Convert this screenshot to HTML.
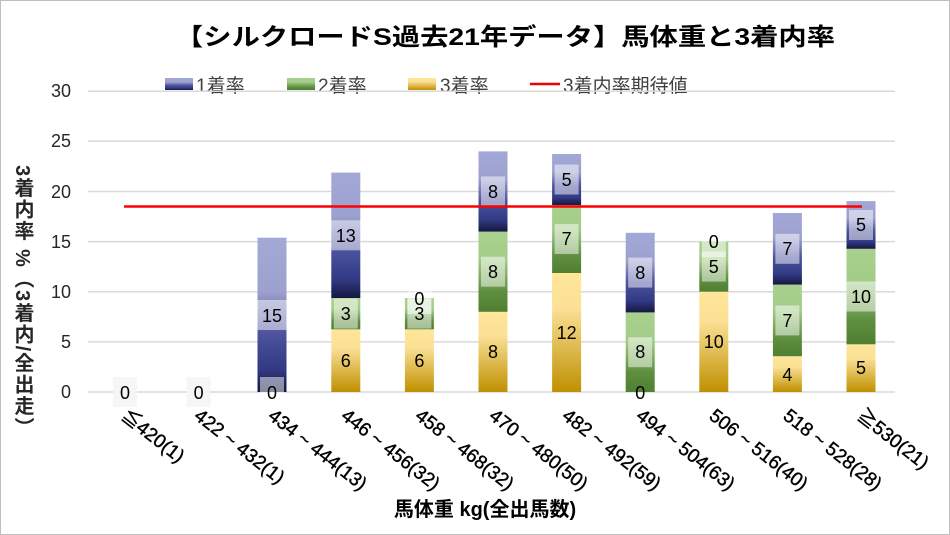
<!DOCTYPE html>
<html><head><meta charset="utf-8"><style>
html,body{margin:0;padding:0;background:#fff}
svg{display:block}
text{font-family:"Liberation Sans","Noto Sans CJK JP",sans-serif}
</style></head><body>
<svg width="950" height="535" viewBox="0 0 950 535" xmlns="http://www.w3.org/2000/svg">
<defs>
<linearGradient id="gb" x1="0" y1="0" x2="0" y2="1"><stop offset="0" stop-color="#a3a8d6"/><stop offset="0.35" stop-color="#9ca1cf"/><stop offset="0.62" stop-color="#4d539d"/><stop offset="0.85" stop-color="#323a85"/><stop offset="1" stop-color="#15173f"/></linearGradient>
<linearGradient id="gg" x1="0" y1="0" x2="0" y2="1"><stop offset="0" stop-color="#a9d18e"/><stop offset="0.35" stop-color="#a3cc88"/><stop offset="0.75" stop-color="#5e8f3e"/><stop offset="1" stop-color="#507e32"/></linearGradient>
<linearGradient id="gy" x1="0" y1="0" x2="0" y2="1"><stop offset="0" stop-color="#ffe699"/><stop offset="0.3" stop-color="#fbe095"/><stop offset="1" stop-color="#bf9000"/></linearGradient>
</defs>
<rect x="0.5" y="0.5" width="949" height="534" fill="#fff" stroke="#bfbfbf"/>
<text x="505" y="45" font-size="24" font-weight="bold" text-anchor="middle" textLength="660" lengthAdjust="spacingAndGlyphs">【シルクロードS過去21年データ】馬体重と3着内率</text>
<!-- legend -->
<rect x="165" y="78" width="28" height="12" fill="url(#gb)"/><text x="196" y="92" font-size="19" fill="#404040">1着率</text>
<rect x="287" y="78" width="28" height="12" fill="url(#gg)"/><text x="318" y="92" font-size="19" fill="#404040">2着率</text>
<rect x="408" y="78" width="28" height="12" fill="url(#gy)"/><text x="440" y="92" font-size="19" fill="#404040">3着率</text>
<line x1="530" y1="84" x2="560" y2="84" stroke="#e00" stroke-width="2.5"/><text x="563" y="92" font-size="19" fill="#404040">3着内率期待値</text>
<!-- grid -->
<g stroke="#d9d9d9" stroke-width="1.5">
<line x1="88" y1="392" x2="895" y2="392"/><line x1="88" y1="341.9" x2="895" y2="341.9"/><line x1="88" y1="291.7" x2="895" y2="291.7"/><line x1="88" y1="241.6" x2="895" y2="241.6"/><line x1="88" y1="191.5" x2="895" y2="191.5"/><line x1="88" y1="141.3" x2="895" y2="141.3"/><line x1="88" y1="91.2" x2="895" y2="91.2"/>
</g>
<g font-size="18" text-anchor="end" fill="#262626">
<text x="71" y="398">0</text><text x="71" y="348">5</text><text x="71" y="298">10</text><text x="71" y="248">15</text><text x="71" y="198">20</text><text x="71" y="147">25</text><text x="71" y="97">30</text>
</g>
<text x="22" y="165" font-size="20" font-weight="bold" letter-spacing="1.5" style="writing-mode:vertical-rl" fill="#262626">3着内率 %（3着内/全出走）</text>
<!-- bars -->
<rect x="257.5" y="237.7" width="29" height="154.3" fill="url(#gb)"/>
<rect x="331.3" y="329.3" width="29" height="62.7" fill="url(#gy)"/><rect x="331.3" y="298" width="29" height="31.3" fill="url(#gg)"/><rect x="331.3" y="172.6" width="29" height="125.4" fill="url(#gb)"/>
<rect x="404.9" y="329.3" width="29" height="62.7" fill="url(#gy)"/><rect x="404.9" y="298" width="29" height="31.3" fill="url(#gg)"/>
<rect x="478.5" y="311.8" width="29" height="80.2" fill="url(#gy)"/><rect x="478.5" y="231.6" width="29" height="80.2" fill="url(#gg)"/><rect x="478.5" y="151.4" width="29" height="80.2" fill="url(#gb)"/>
<rect x="552.1" y="273" width="29" height="119" fill="url(#gy)"/><rect x="552.1" y="205" width="29" height="68" fill="url(#gg)"/><rect x="552.1" y="154" width="29" height="51" fill="url(#gb)"/>
<rect x="625.7" y="312.4" width="29" height="79.6" fill="url(#gg)"/><rect x="625.7" y="232.8" width="29" height="79.6" fill="url(#gb)"/>
<rect x="699.3" y="291.7" width="29" height="100.3" fill="url(#gy)"/><rect x="699.3" y="241.6" width="29" height="50.1" fill="url(#gg)"/>
<rect x="772.9" y="356.2" width="29" height="35.8" fill="url(#gy)"/><rect x="772.9" y="284.6" width="29" height="71.6" fill="url(#gg)"/><rect x="772.9" y="213" width="29" height="71.6" fill="url(#gb)"/>
<rect x="846.5" y="344.3" width="29" height="47.7" fill="url(#gy)"/><rect x="846.5" y="248.8" width="29" height="95.5" fill="url(#gg)"/><rect x="846.5" y="201.1" width="29" height="47.7" fill="url(#gb)"/>
<!-- label boxes -->
<g fill="#fff" fill-opacity="0.5">
<rect x="113" y="377" width="24" height="30" fill-opacity="0.9" fill="#f5f5f5"/><rect x="186.6" y="377" width="24" height="30" fill-opacity="0.9" fill="#f5f5f5"/><rect x="260" y="377" width="24" height="30"/><rect x="257" y="300" width="30" height="30"/>
<rect x="333.8" y="298.6" width="24" height="30"/><rect x="330.8" y="220.3" width="30" height="30"/>
<rect x="407.4" y="298.6" width="24" height="30"/><rect x="407.4" y="284" width="24" height="30"/>
<rect x="481" y="256.7" width="24" height="30"/><rect x="481" y="176.4" width="24" height="30"/>
<rect x="554.6" y="224" width="24" height="30"/><rect x="554.6" y="164.5" width="24" height="30"/>
<rect x="628.2" y="337.2" width="24" height="30"/><rect x="628.2" y="257.6" width="24" height="30"/>
<rect x="701.8" y="251.6" width="24" height="30"/><rect x="701.8" y="227" width="24" height="30"/>
<rect x="775.4" y="305.4" width="24" height="30"/><rect x="775.4" y="233.8" width="24" height="30"/>
<rect x="846" y="281.5" width="30" height="30"/><rect x="849" y="210" width="24" height="30"/>
</g>
<line x1="124" y1="206.5" x2="862" y2="206.5" stroke="#f00" stroke-width="2.5"/>
<g font-size="18" text-anchor="middle" fill="#000">
<text x="125" y="399">0</text><text x="198.6" y="399">0</text><text x="272" y="399">0</text><text x="272" y="322">15</text>
<text x="345.8" y="367">6</text><text x="345.8" y="320">3</text><text x="345.8" y="242">13</text>
<text x="419.4" y="367">6</text><text x="419.4" y="320">3</text><text x="419.4" y="305">0</text>
<text x="493" y="358">8</text><text x="493" y="278">8</text><text x="493" y="198">8</text>
<text x="566.6" y="339">12</text><text x="566.6" y="245">7</text><text x="566.6" y="186">5</text>
<text x="640.2" y="399">0</text><text x="640.2" y="358">8</text><text x="640.2" y="279">8</text>
<text x="713.8" y="348">10</text><text x="713.8" y="273">5</text><text x="713.8" y="248">0</text>
<text x="787.4" y="381">4</text><text x="787.4" y="327">7</text><text x="787.4" y="255">7</text>
<text x="861" y="374">5</text><text x="861" y="303">10</text><text x="861" y="231">5</text>
</g>
<!-- x labels -->
<g font-size="19" fill="#000" stroke="#000" stroke-width="0.4">
<text transform="translate(120,418) rotate(38)">≦420(1)</text>
<text transform="translate(193,418) rotate(38)">422 ~ 432(1)</text>
<text transform="translate(267,418) rotate(38)">434 ~ 444(13)</text>
<text transform="translate(340,418) rotate(38)">446 ~ 456(32)</text>
<text transform="translate(414,418) rotate(38)">458 ~ 468(32)</text>
<text transform="translate(488,418) rotate(38)">470 ~ 480(50)</text>
<text transform="translate(561,418) rotate(38)">482 ~ 492(59)</text>
<text transform="translate(635,418) rotate(38)">494 ~ 504(63)</text>
<text transform="translate(708,418) rotate(38)">506 ~ 516(40)</text>
<text transform="translate(782,418) rotate(38)">518 ~ 528(28)</text>
<text transform="translate(856,418) rotate(38)">≧530(21)</text>
</g>
<text x="485" y="516" font-size="20" font-weight="bold" text-anchor="middle" fill="#000">馬体重 kg(全出馬数)</text>
</svg>
</body></html>
